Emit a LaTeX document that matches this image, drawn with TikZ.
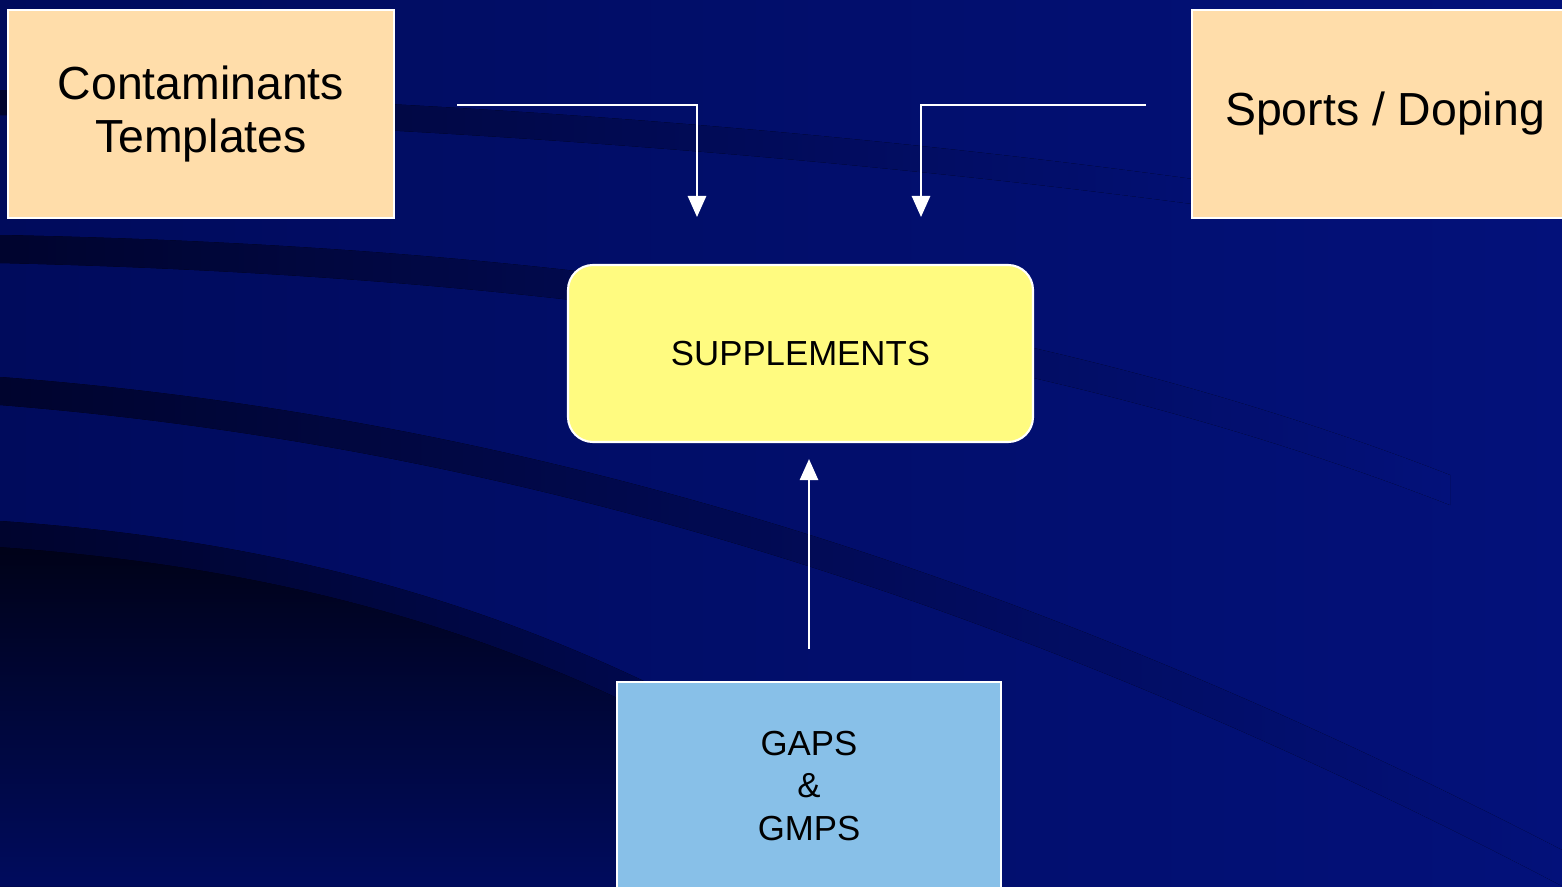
\documentclass[tikz,border=0pt]{standalone}
\usepackage{fontspec}
\setmainfont{Liberation Sans}
\usetikzlibrary{arrows.meta}
\definecolor{navyl}{RGB}{0,11,92}
\definecolor{navyr}{RGB}{3,17,122}
\definecolor{streak}{RGB}{0,4,46}
\definecolor{abyss}{RGB}{0,2,24}
\definecolor{peach}{RGB}{255,221,170}
\definecolor{lemon}{RGB}{255,251,128}
\definecolor{sky}{RGB}{136,192,232}
\begin{document}
\begin{tikzpicture}[
    box/.style={draw=white, line width=0.6pt, align=center, inner sep=0pt},
    flow/.style={draw=white, line width=0.6pt, -{Triangle[width=5.2pt,length=6pt]}},
    big/.style={font=\fontsize{13.2}{14.8}\selectfont},
    small/.style={font=\fontsize{9.9}{12.2}\selectfont}]
  \useasboundingbox (0,0) rectangle (15.62,-8.86);
  \fill[left color=navyl, right color=navyr] (0,0) rectangle (15.62,-8.86);
  \fill[left color=streak, right color=navyl!25!navyr]
    (0,-0.90) .. controls (4,-0.98) and (8,-1.25) .. (12,-1.80)
    -- (12,-2.05) .. controls (8,-1.52) and (4,-1.25) .. (0,-1.15) -- cycle;
  \fill[left color=streak, right color=navyr]
    (0,-2.35) .. controls (5,-2.45) and (10,-3.00) .. (14.5,-4.75)
    -- (14.5,-5.05) .. controls (10,-3.30) and (5,-2.75) .. (0,-2.63) -- cycle;
  \fill[left color=streak, right color=navyr]
    (0,-3.77) .. controls (5,-4.15) and (10,-5.60) .. (15.62,-8.50)
    -- (15.62,-8.86) .. controls (10,-5.92) and (5,-4.45) .. (0,-4.05) -- cycle;
  \fill[top color=abyss, bottom color=navyl!95!navyr]
    (0,-5.47) .. controls (3.5,-5.72) and (6.3,-6.65) .. (9.3,-8.86)
    -- (0,-8.86) -- cycle;
  \fill[left color=streak, right color=navyl]
    (0,-5.21) .. controls (3.5,-5.45) and (6.5,-6.40) .. (9.8,-8.86)
    -- (9.3,-8.86) .. controls (6.3,-6.65) and (3.5,-5.72) .. (0,-5.47) -- cycle;
  \draw
    (2.01,-1.14) node[box, big, fill=peach, minimum width=3.86cm, minimum height=2.08cm] (conta) {Contaminants\\Templates}
    (13.85,-1.14) node[box, big, fill=peach, minimum width=3.86cm, minimum height=2.08cm] (sports) {Sports / Doping}
    (8.005,-3.535) node[box, small, fill=lemon, rounded corners=0.25cm, minimum width=4.65cm, minimum height=1.77cm] (supp) {SUPPLEMENTS}
    (8.09,-7.86) node[box, small, fill=sky, minimum width=3.84cm, minimum height=2.08cm] (gaps) {GAPS\\\&\\GMPS};
  \coordinate (lfrom) at (4.57,-1.05);
  \coordinate (lto) at (6.97,-2.17);
  \coordinate (rfrom) at (11.46,-1.05);
  \coordinate (rto) at (9.21,-2.17);
  \draw[flow] (lfrom) -| (lto);
  \draw[flow] (rfrom) -| (rto);
  \draw[flow, shorten <=0.32cm, shorten >=0.16cm] (gaps.north) -- (gaps.north |- supp.south);
\end{tikzpicture}
\end{document}
